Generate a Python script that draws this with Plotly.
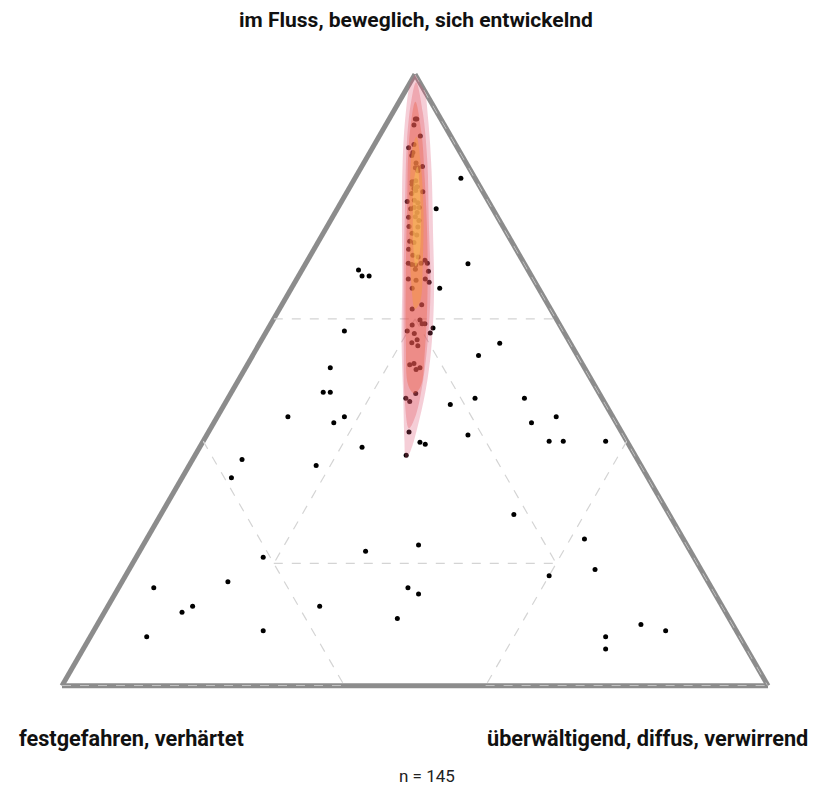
import plotly.graph_objects as go

# survey answers in percent: top / left / right corner
top = [
    83, 69, 68, 67, 67, 58, 52, 48, 48, 44, 43, 44, 39, 36, 37, 34, 21, 22, 23, 16,
    17, 12, 13, 8, 9, 13, 16, 15, 11, 41, 43, 44, 40, 40, 40, 28, 24, 18, 19, 10,
    9, 8, 6, 56, 54, 47, 47, 46, 65, 78,
    92.7, 92.7, 91.7, 89.9, 88.5, 88.0, 87.2, 86.7, 85.5, 84.7, 84.7, 84.9, 84.2,
    82.4, 82.6, 82.0, 81.6, 81.3, 80.8, 81.0, 80.5, 79.2, 79.4, 79.0, 78.2, 78.2,
    78.0, 77.4, 76.6, 76.7, 76.1, 75.1, 75.0, 74.0, 73.7, 72.7, 72.5, 71.4, 70.4,
    70.1, 68.9, 69.6, 69.1, 69.1, 69.1, 68.8, 67.8, 68.1, 66.0, 66.5, 66.5, 66.3,
    65.0, 61.6, 62.3, 59.8, 59.0, 59.2, 59.2, 58.5, 57.7, 58.0, 57.6, 56.6, 56.1,
    55.6, 52.5, 52.7, 52.0, 51.7, 47.8, 47.0, 46.5, 41.5, 39.8, 39.5, 37.7,
]
left = [
    2, 8, 24, 24, 23, 31, 36, 39, 38, 46, 40, 38, 38, 46, 56, 59, 61, 46, 38, 79,
    68, 77, 75, 84, 67, 57, 43, 42, 47, 22, 12, 8, 11, 9, 3, 22, 14, 22, 15, 13,
    10, 19, 20, 10, 14, 11, 18, 22, 14, 8,
    3.6, 3.4, 4.3, 4.3, 5.9, 6.9, 6.7, 7.1, 7.1, 7.6, 7.2, 6.5, 7.5,
    9.2, 8.6, 9.4, 8.9, 9.5, 8.5, 9.4, 10.2, 11.5, 10.4, 10.1, 11.0, 10.3,
    11.6, 11.0, 12.6, 11.6, 11.4, 13.3, 12.1, 13.4, 12.9, 14.4, 13.9, 15.2, 15.1,
    14.5, 16.0, 13.8, 13.7, 16.4, 14.6, 15.5, 14.2, 15.9, 15.0, 15.3, 17.7, 16.7,
    17.9, 19.6, 17.9, 19.4, 20.9, 19.4, 19.0, 18.2, 19.0, 22.1, 21.3, 21.4, 22.4,
    21.8, 24.5, 23.8, 23.3, 24.0, 26.0, 27.8, 27.5, 30.1, 29.4, 28.8, 32.4,
]
right = [
    15, 23, 8, 9, 10, 11, 12, 13, 14, 10, 17, 18, 23, 18, 7, 7, 18, 32, 39, 5,
    15, 11, 12, 8, 24, 30, 41, 43, 42, 37, 45, 48, 49, 51, 57, 50, 62, 60, 66, 77,
    81, 73, 74, 34, 32, 42, 35, 32, 21, 14,
    3.7, 3.9, 4.0, 5.8, 5.6, 5.1, 6.1, 6.2, 7.4, 7.7, 8.1, 8.6, 8.3,
    8.4, 8.8, 8.6, 9.5, 9.2, 10.7, 9.6, 9.3, 9.3, 10.2, 10.9, 10.8, 11.5,
    10.4, 11.6, 10.8, 11.7, 12.5, 11.6, 12.9, 12.6, 13.4, 12.9, 13.6, 13.4, 14.5,
    15.4, 15.1, 16.6, 17.2, 14.5, 16.3, 15.7, 18.0, 16.0, 19.0, 18.2, 15.8, 17.0,
    17.1, 18.8, 19.8, 20.8, 20.1, 21.4, 21.8, 23.3, 23.3, 19.9, 21.1, 22.0, 21.5,
    22.6, 23.0, 23.5, 24.7, 24.3, 26.2, 25.2, 26.0, 28.4, 30.8, 31.7, 29.9,
]

# density bands around the main cluster (top share, right share), outer -> inner
band_top = [
    [101.6, 98.7, 92.2, 84.1, 74.3, 64.6, 56.4, 49.9, 43.4, 38.2, 37.2, 40.2, 46.7,
     56.4, 66.2, 75.9, 85.7, 93.8, 99.0],
    [98.7, 93.8, 85.7, 75.9, 64.6, 56.4, 49.9, 44.2, 42.1, 46.7, 56.4, 67.8, 79.2,
     88.9, 95.5],
    [95.5, 90.6, 82.4, 72.7, 62.9, 54.8, 49.1, 47.8, 49.1, 56.4, 67.8, 79.2, 88.9],
    [89.8, 84.9, 77.6, 69.4, 62.9, 61.6, 65.4, 74.3, 82.4, 87.3],
    [84.9, 80.8, 75.1, 70.2, 68.6, 71.9, 77.6, 82.4],
]
band_right = [
    [-0.4, 1.9, 5.8, 10.3, 15.4, 20.4, 24.2, 26.8, 28.9, 30.2, 30.1, 28.4, 25.0,
     19.9, 15.1, 10.2, 5.4, 1.8, -0.1],
    [0.8, 4.2, 8.9, 14.0, 19.9, 23.6, 26.2, 28.0, 28.1, 25.2, 20.2, 14.5, 9.0,
     4.4, 1.7],
    [2.3, 5.6, 10.2, 15.4, 20.3, 24.0, 26.3, 26.0, 24.5, 20.5, 14.8, 9.3, 4.7],
    [5.3, 8.4, 12.4, 16.4, 19.3, 19.2, 16.8, 12.1, 8.1, 5.9],
    [7.9, 10.3, 13.3, 15.5, 15.8, 13.8, 10.9, 8.6],
]
band_colors = [
    "rgba(220, 80, 110, 0.28)",
    "rgba(225, 80, 90, 0.3)",
    "rgba(235, 90, 60, 0.35)",
    "rgba(245, 150, 60, 0.5)",
    "rgba(250, 195, 90, 0.5)",
]

# region borders (top, left, right) – None breaks the line
grid_top = [60, 60, None, 40, 0, None, 40, 0, None, 20, 20, None, 60, 20, None, 60, 20,
            None, 0, 0, None, 0, 0, None, 100, 0]
grid_left = [40, 0, None, 60, 60, None, 0, 40, None, 60, 20, None, 20, 20, None, 20, 60,
             None, 100, 60, None, 40, 0, None, 0, 0]
grid_right = [0, 40, None, 0, 40, None, 60, 60, None, 20, 60, None, 20, 60, None, 20, 20,
              None, 0, 40, None, 60, 100, None, 0, 100]

label_top = "im Fluss, beweglich, sich entwickelnd"
label_left = "festgefahren, verhärtet"
label_right = "überwältigend, diffus, verwirrend"
n_text = "n = 145"

fig = go.Figure()

fig.add_trace(
    go.Scatterternary(
        a=grid_top, b=grid_left, c=grid_right,
        mode="lines",
        line=dict(color="#d4d4d4", width=1.2, dash="dash"),
        hoverinfo="skip",
    )
)

fig.add_trace(
    go.Scatterternary(
        a=top, b=left, c=right,
        mode="markers",
        marker=dict(color="black", size=5),
        hovertemplate="oben %{a}<br>links %{b}<br>rechts %{c}<extra></extra>",
    )
)

for ta, tc, col in zip(band_top, band_right, band_colors):
    tb = [100 - x - y for x, y in zip(ta, tc)]
    fig.add_trace(
        go.Scatterternary(
            a=ta + ta[:1], b=tb + tb[:1], c=tc + tc[:1],
            mode="lines",
            line=dict(width=0, shape="spline", smoothing=1),
            fill="toself",
            fillcolor=col,
            cliponaxis=False,
            hoverinfo="skip",
        )
    )

axis_style = dict(
    showgrid=False,
    showticklabels=False,
    ticks="",
    linecolor="#8c8c8c",
    linewidth=5,
    layer="below traces",
    title=dict(text=""),
    min=0,
)

bold = dict(family="Roboto", size=21, color="#111111", weight="bold")
bold_bottom = dict(family="Roboto", size=21.7, color="#111111", weight="bold")

fig.update_layout(
    width=832,
    height=789,
    margin=dict(l=0, r=0, t=0, b=0),
    paper_bgcolor="white",
    showlegend=False,
    ternary=dict(
        sum=100,
        bgcolor="white",
        domain=dict(x=[0.0745, 0.9231], y=[0.1272, 0.9096]),
        aaxis=axis_style,
        baxis=axis_style,
        caxis=axis_style,
    ),
    annotations=[
        dict(text=label_top, x=0.5, y=0.975, xref="paper", yref="paper",
             xanchor="center", yanchor="middle", showarrow=False, font=bold),
        dict(text=label_left, x=0.0204, y=0.0634, xref="paper", yref="paper",
             xanchor="left", yanchor="middle", showarrow=False, font=bold_bottom),
        dict(text=label_right, x=0.9736, y=0.0634, xref="paper", yref="paper",
             xanchor="right", yanchor="middle", showarrow=False, font=bold_bottom),
        dict(text=n_text, x=0.513, y=0.0165, xref="paper", yref="paper",
             xanchor="center", yanchor="middle", showarrow=False,
             font=dict(family="Roboto", size=17, color="#222222")),
    ],
)

# page has a default 8px body margin; drop it so the figure sits at the corner
fig.write_html(
    "out.html",
    config={"displayModeBar": False},
    post_script="document.body.style.margin = '0';",
)
